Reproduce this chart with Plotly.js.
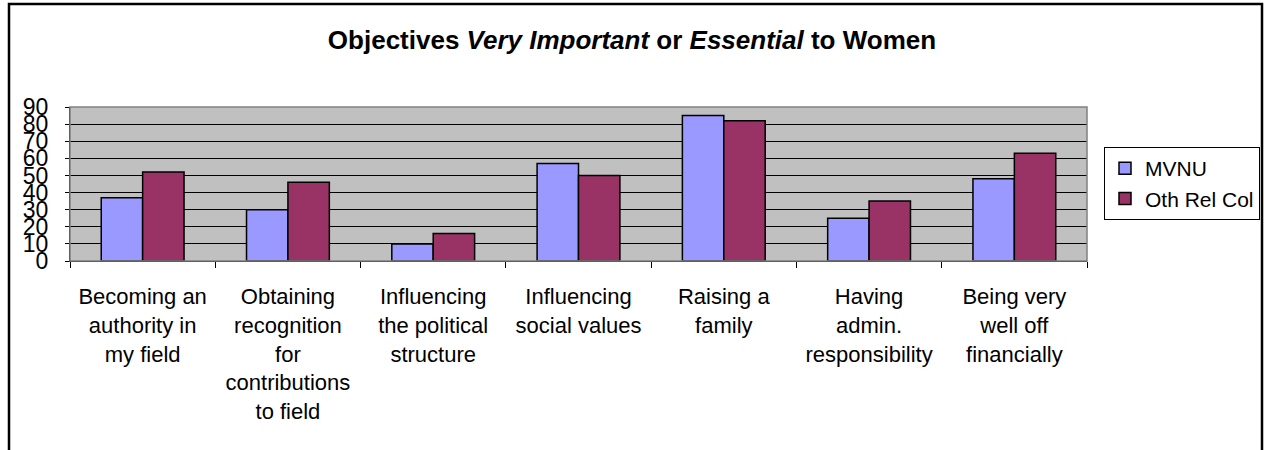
<!DOCTYPE html>
<html>
<head>
<meta charset="utf-8">
<script src="https://cdn.plot.ly/plotly-3.0.1.min.js"></script>
<style>
  html, body { margin: 0; padding: 0; background: #fff; }
  #chart { width: 1264px; height: 450px; }
</style>
</head>
<body>
<div id="chart"></div>
<script>
const categories = [
  "Becoming an<br>authority in<br>my field",
  "Obtaining<br>recognition<br>for<br>contributions<br>to field",
  "Influencing<br>the political<br>structure",
  "Influencing<br>social values",
  "Raising a<br>family",
  "Having<br>admin.<br>responsibility",
  "Being very<br>well off<br>financially"
];
const mvnu = [37, 30, 10, 57, 85, 25, 48];
const othRelCol = [52, 46, 16, 50, 82, 35, 63];
const yTickVals = [0, 10, 20, 30, 40, 50, 60, 70, 80, 90];

const FONT = "Liberation Sans, Arial, Helvetica, sans-serif";

const traces = [
  {
    type: "bar", name: "MVNU", x: categories, y: mvnu,
    marker: { color: "#9999ff", line: { color: "#000000", width: 1.5 } }
  },
  {
    type: "bar", name: "Oth Rel Col", x: categories, y: othRelCol,
    marker: { color: "#993366", line: { color: "#000000", width: 1.5 } }
  }
];

const layout = {
  width: 1264, height: 450,
  margin: { l: 70, r: 177, t: 107, b: 189, pad: 0, autoexpand: false },
  paper_bgcolor: "#ffffff",
  plot_bgcolor: "#c0c0c0",
  font: { family: FONT, color: "#000000", size: 22 },
  title: {
    text: "<b>Objectives <i>Very Important</i> or <i>Essential</i> to Women</b>",
    font: { family: FONT, size: 26, color: "#000000" },
    x: 0.5, xref: "container", xanchor: "center",
    y: 1 - 40 / 450, yref: "container", yanchor: "middle"
  },
  barmode: "group",
  bargap: 0.43,
  bargroupgap: 0,
  showlegend: true,
  legend: {
    xref: "container", yref: "container",
    x: 1104 / 1264, xanchor: "left", y: 1 - 147 / 450, yanchor: "top",
    bgcolor: "#ffffff", bordercolor: "#000000", borderwidth: 1,
    font: { family: FONT, size: 21, color: "#000000" },
    tracegroupgap: 15
  },
  xaxis: {
    type: "category",
    tickson: "boundaries",
    ticks: "outside", ticklen: 6, tickcolor: "#000000", tickwidth: 1,
    showline: true, linecolor: "#000000", linewidth: 1,
    showgrid: false, zeroline: false,
    tickfont: { family: FONT, size: 22, color: "#000000" },
    ticklabelstandoff: 16,
    fixedrange: true
  },
  yaxis: {
    range: [0, 90],
    tickvals: yTickVals,
    ticktext: yTickVals.map(String),
    ticks: "outside", ticklen: 4, tickcolor: "#000000", tickwidth: 1,
    showline: true, linecolor: "#000000", linewidth: 1,
    showgrid: true, gridcolor: "#000000", gridwidth: 1,
    zeroline: false,
    tickfont: { family: FONT, size: 23, color: "#000000" },
    ticklabelstandoff: 12,
    fixedrange: true
  },
  shapes: [
    {
      type: "rect", xref: "paper", yref: "paper",
      x0: 0, x1: 1, y0: 0, y1: 1,
      line: { color: "#808080", width: 1.5 }, fillcolor: "rgba(0,0,0,0)", layer: "above"
    },
    {
      type: "rect", xref: "paper", yref: "paper",
      x0: (9 - 70) / 1017, x1: (1262 - 70) / 1017,
      y0: (261 - 470) / 154, y1: (261 - 4) / 154,
      line: { color: "#000000", width: 2.5 }, fillcolor: "rgba(0,0,0,0)", layer: "above"
    }
  ]
};

Plotly.newPlot("chart", traces, layout, { displayModeBar: false, staticPlot: true });
</script>
</body>
</html>
